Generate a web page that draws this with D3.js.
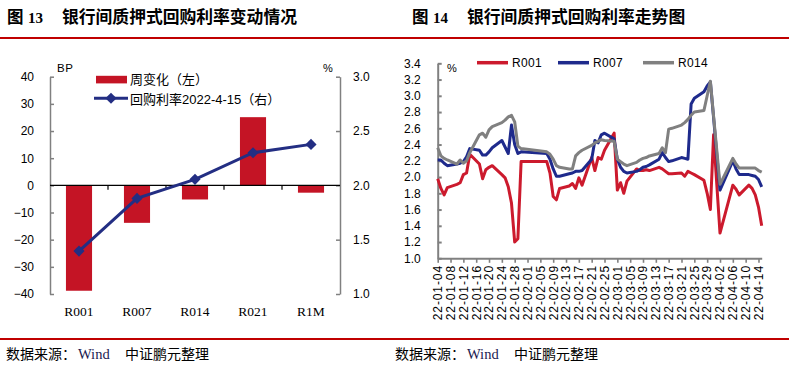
<!DOCTYPE html>
<html><head><meta charset="utf-8">
<script src="https://cdn.jsdelivr.net/npm/d3@7"></script>
<style>
body{margin:0;background:#fff;}
svg{display:block;}
text{font-family:"Liberation Sans","Noto Sans CJK SC",sans-serif;}
</style></head>
<body>
<svg id="c" width="789" height="367"></svg>
<script>
// ---------- Left chart data ----------
const categories = ["R001","R007","R014","R021","R1M"];
const weeklyChange = [-38.8, -13.8, -5.2, 25.1, -2.7];      // BP, left axis
const repoRate = [1.395, 1.88, 2.055, 2.30, 2.377];          // %, right axis (2022-4-15)
const leftTicks = [-40,-30,-20,-10,0,10,20,30,40];
const rightTicks = [1.0,1.5,2.0,2.5,3.0];

// ---------- Right chart data ----------
const dates = [
 "2022-01-04","2022-01-05","2022-01-06","2022-01-07","2022-01-10","2022-01-11","2022-01-12","2022-01-13","2022-01-14",
 "2022-01-17","2022-01-18","2022-01-19","2022-01-20","2022-01-21","2022-01-24","2022-01-25","2022-01-26","2022-01-27",
 "2022-01-28","2022-01-29","2022-01-30",
 "2022-02-07","2022-02-08","2022-02-09","2022-02-10","2022-02-11","2022-02-14","2022-02-15","2022-02-16","2022-02-17",
 "2022-02-18","2022-02-21","2022-02-22","2022-02-23","2022-02-24","2022-02-25","2022-02-28",
 "2022-03-01","2022-03-02","2022-03-03","2022-03-04","2022-03-07","2022-03-08","2022-03-09","2022-03-10","2022-03-11",
 "2022-03-14","2022-03-15","2022-03-16","2022-03-17","2022-03-18","2022-03-21","2022-03-22","2022-03-23","2022-03-24",
 "2022-03-25","2022-03-28","2022-03-29","2022-03-30","2022-03-31",
 "2022-04-01","2022-04-02","2022-04-06","2022-04-07","2022-04-08","2022-04-11","2022-04-12","2022-04-13","2022-04-14","2022-04-15"
];
const r001 = [
 1.98,1.86,1.78,1.87,1.91,1.93,2.03,2.05,2.28,2.16,1.98,2.09,2.12,2.14,2.03,1.99,1.88,1.68,1.20,1.24,2.19,
 2.19,2.05,1.76,1.72,1.86,1.89,1.92,1.86,1.99,1.90,2.24,2.08,2.24,2.22,2.33,2.54,
 1.84,1.93,1.80,1.95,2.10,2.08,2.08,2.09,2.08,2.12,2.10,2.07,2.04,2.04,2.05,2.01,2.07,2.05,2.03,1.96,1.80,1.60,2.52,
 1.91,1.31,1.90,1.85,1.78,1.90,1.86,1.78,1.63,1.40
];
const r007 = [
 2.21,2.21,2.17,2.14,2.16,2.17,2.19,2.25,2.35,2.33,2.27,2.27,2.31,2.36,2.45,2.37,2.29,2.64,2.40,2.29,2.31,
 2.29,2.22,2.10,2.01,2.01,2.04,2.05,2.07,2.07,2.08,2.22,2.45,2.42,2.52,2.54,2.47,
 2.22,2.12,2.07,2.05,2.07,2.09,2.12,2.13,2.15,2.22,2.30,2.24,2.19,2.20,2.24,2.23,2.22,2.90,2.97,3.05,3.12,3.17,2.73,
 2.28,1.84,2.20,2.10,2.03,2.03,2.02,2.01,1.97,1.88
];
const r014 = [
 2.36,2.26,2.23,2.21,2.16,2.21,2.17,2.20,2.30,2.52,2.54,2.49,2.58,2.62,2.67,2.70,2.74,2.76,2.68,2.38,2.35,
 2.31,2.28,2.22,2.14,2.12,2.10,2.10,2.26,2.30,2.33,2.39,2.42,2.44,2.46,2.45,2.44,
 2.22,2.19,2.16,2.14,2.18,2.21,2.23,2.24,2.26,2.29,2.36,2.30,2.59,2.60,2.64,2.67,2.71,2.76,2.80,2.82,3.00,3.18,2.75,
 2.33,1.91,2.23,2.16,2.11,2.11,2.11,2.11,2.08,2.06
];
const dateTicks = ["22-01-04","22-01-08","22-01-12","22-01-16","22-01-20","22-01-24","22-01-28","22-02-01","22-02-05",
 "22-02-09","22-02-13","22-02-17","22-02-21","22-02-25","22-03-01","22-03-05","22-03-09","22-03-13","22-03-17",
 "22-03-21","22-03-25","22-03-29","22-04-02","22-04-06","22-04-10","22-04-14"];
const yTicksRight = [1.0,1.2,1.4,1.6,1.8,2.0,2.2,2.4,2.6,2.8,3.0,3.2,3.4];
const seriesNames = ["R001","R007","R014"];

const RED="#C41425", NAVY="#232E83", SRED="#CC1A2D", SBLUE="#1E2A8C", SGRAY="#808080", AX="#808080", RULE="#C00000";
const CJK = '"Noto Sans CJK SC",sans-serif';

const svg = d3.select("#c");

// ---------- Page frame: titles, rules, footers ----------
function title(x0, num, txt){
  svg.append("text").attr("x",x0).attr("y",23).attr("font-size",16.5).attr("font-weight",700)
     .style("font-family",CJK).text("图");
  svg.append("text").attr("x",x0+21).attr("y",23).attr("font-size",15).attr("font-weight",700)
     .style("font-family",'"Liberation Serif",serif').text(num);
  svg.append("text").attr("x",x0+55).attr("y",23).attr("font-size",16.8).attr("font-weight",700)
     .style("font-family",CJK).text(txt);
}
title(7,"13","银行间质押式回购利率变动情况");
title(412,"14","银行间质押式回购利率走势图");
svg.append("rect").attr("x",0).attr("y",37).attr("width",789).attr("height",2).attr("fill",RULE);
svg.append("rect").attr("x",0).attr("y",338).attr("width",789).attr("height",2).attr("fill",RULE);
function footer(x0){
  svg.append("text").attr("x",x0).attr("y",359).attr("font-size",14).style("font-family",CJK).text("数据来源：");
  svg.append("text").attr("x",x0+72).attr("y",359).attr("font-size",14.5).attr("fill","#1a1a50")
     .style("font-family",'"Liberation Serif",serif').text("Wind");
  svg.append("text").attr("x",x0+119).attr("y",359).attr("font-size",14).style("font-family",CJK).text("中证鹏元整理");
}
footer(6); footer(395);

// ---------- Left chart ----------
const xL = d3.scaleBand().domain(categories).range([50,340]).padding(0);
const yL = d3.scaleLinear().domain([-40,40]).range([294,76.7]);
const yR = d3.scaleLinear().domain([1.0,3.0]).range([294,76.7]);
const barW = xL.bandwidth()*0.45;

const gL = svg.append("g");
gL.selectAll("rect.bar").data(categories).enter().append("rect")
  .attr("x",d=>xL(d)+xL.bandwidth()/2-barW/2)
  .attr("width",barW)
  .attr("y",(d,i)=>yL(Math.max(0,weeklyChange[i])))
  .attr("height",(d,i)=>Math.abs(yL(weeklyChange[i])-yL(0)))
  .attr("fill",RED);

const axL = gL.append("g").attr("transform","translate(50,0)")
  .call(d3.axisLeft(yL).tickValues(leftTicks).tickSize(-4).tickSizeOuter(0).tickPadding(16));
const axR = gL.append("g").attr("transform","translate(340,0)")
  .call(d3.axisRight(yR).tickValues(rightTicks).tickSize(-4).tickSizeOuter(0).tickPadding(13).tickFormat(d3.format(".1f")));
[axL,axR].forEach(a=>{
  a.selectAll("path,line").attr("stroke",AX).attr("stroke-width",1.5);
  a.selectAll("text").attr("font-size",12).attr("fill","#000").style("font-family",'"Liberation Sans",sans-serif');
});

// category axis at zero
const bounds = categories.map(d=>xL(d)).concat([xL.range()[1]]);
gL.append("line").attr("x1",xL.range()[0]).attr("x2",xL.range()[1]).attr("y1",yL(0)).attr("y2",yL(0))
  .attr("stroke","#000").attr("stroke-width",1.2);
gL.selectAll("line.ct").data(bounds.slice(1,-1)).enter().append("line")
  .attr("x1",d=>d).attr("x2",d=>d).attr("y1",yL(0)).attr("y2",yL(0)+4.5).attr("stroke","#000").attr("stroke-width",1.2);
gL.selectAll("text.cat").data(categories).enter().append("text")
  .attr("x",d=>xL(d)+xL.bandwidth()/2).attr("y",316).attr("text-anchor","middle")
  .attr("font-size",13.5).style("font-family",'"Liberation Serif",serif').text(d=>d);

// rate line
const lineL = d3.line().x((d,i)=>xL(categories[i])+xL.bandwidth()/2).y(d=>yR(d));
gL.append("path").attr("d",lineL(repoRate)).attr("fill","none").attr("stroke",NAVY).attr("stroke-width",3);
const diamond = d3.symbol(d3.symbolSquare,62);
gL.selectAll("path.mk").data(repoRate).enter().append("path")
  .attr("d",diamond).attr("fill",NAVY)
  .attr("transform",(d,i)=>`translate(${xL(categories[i])+xL.bandwidth()/2},${yR(d)}) rotate(45)`);

// units
gL.append("text").attr("x",57).attr("y",72).attr("font-size",11.5).attr("letter-spacing",0.5).text("BP");
gL.append("text").attr("x",323).attr("y",72).attr("font-size",11).text("%");

// legend
gL.append("rect").attr("x",96).attr("y",75.8).attr("width",31).attr("height",7.6).attr("fill",RED);
gL.append("text").attr("x",130).attr("y",79.5).attr("dominant-baseline","central").attr("font-size",13).text("周变化（左）");
gL.append("line").attr("x1",94).attr("x2",128).attr("y1",98.3).attr("y2",98.3).attr("stroke",NAVY).attr("stroke-width",3);
gL.append("path").attr("d",diamond).attr("fill",NAVY).attr("transform","translate(111,98.3) rotate(45)");
gL.append("text").attr("x",130).attr("y",99.8).attr("dominant-baseline","central").attr("font-size",13).text("回购利率2022-4-15（右）");

// ---------- Right chart ----------
const parseD = d3.timeParse("%Y-%m-%d");
const parseT = d3.timeParse("%y-%m-%d");
const dd = dates.map(parseD);
const xT = d3.scaleTime().domain([parseD("2022-01-04"), parseD("2022-04-15")]).range([437.7,761.7]);
const yT = d3.scaleLinear().domain([1.0,3.4]).range([258.3,63.3]);
const gR = svg.append("g");

const axY = gR.append("g").attr("transform",`translate(${xT.range()[0]},0)`)
  .call(d3.axisLeft(yT).tickValues(yTicksRight).tickSize(-4).tickSizeOuter(0).tickPadding(17).tickFormat(d3.format(".1f")));
axY.selectAll("path,line").attr("stroke",AX).attr("stroke-width",2);
axY.selectAll("text").attr("font-size",12).attr("fill","#000").style("font-family",'"Liberation Sans",sans-serif');

const tickDates = dateTicks.map(parseT);
const axX = gR.append("g").attr("transform",`translate(0,${yT.range()[0]})`)
  .call(d3.axisBottom(xT).tickValues(tickDates).tickSize(4.5).tickSizeOuter(0).tickFormat(""));
axX.selectAll("path,line").attr("stroke",AX).attr("stroke-width",1.6);
axX.select("path").attr("stroke-width",2);
gR.selectAll("text.dt").data(tickDates).enter().append("text")
  .attr("transform",(d)=>`translate(${xT(d)},265) rotate(-90)`)
  .attr("text-anchor","end").attr("dy","0.36em").attr("font-size",12).attr("letter-spacing",0.9)
  .style("font-family",'"Liberation Sans",sans-serif')
  .text((d,i)=>dateTicks[i]);

const lineT = d3.line().x((d,i)=>xT(dd[i])).y(d=>yT(d));
const seriesVals = [r001, r007, r014];
const seriesCols = [SRED, SBLUE, SGRAY];
seriesVals.forEach((s,k)=>{
  gR.append("path").attr("d",lineT(s)).attr("fill","none").attr("stroke",seriesCols[k])
    .attr("stroke-width",3).attr("stroke-linejoin","round");
});
gR.append("text").attr("x",447).attr("y",72).attr("font-size",11).text("%");

// legend
const legX = [477,558,643];
seriesNames.forEach((n,k)=>{
  gR.append("line").attr("x1",legX[k]).attr("x2",legX[k]+31).attr("y1",62.7).attr("y2",62.7)
    .attr("stroke",seriesCols[k]).attr("stroke-width",3.5);
  gR.append("text").attr("x",legX[k]+35).attr("y",62.7).attr("dominant-baseline","central")
    .attr("font-size",12).attr("letter-spacing",0.3).text(n);
});
</script>
</body></html>
